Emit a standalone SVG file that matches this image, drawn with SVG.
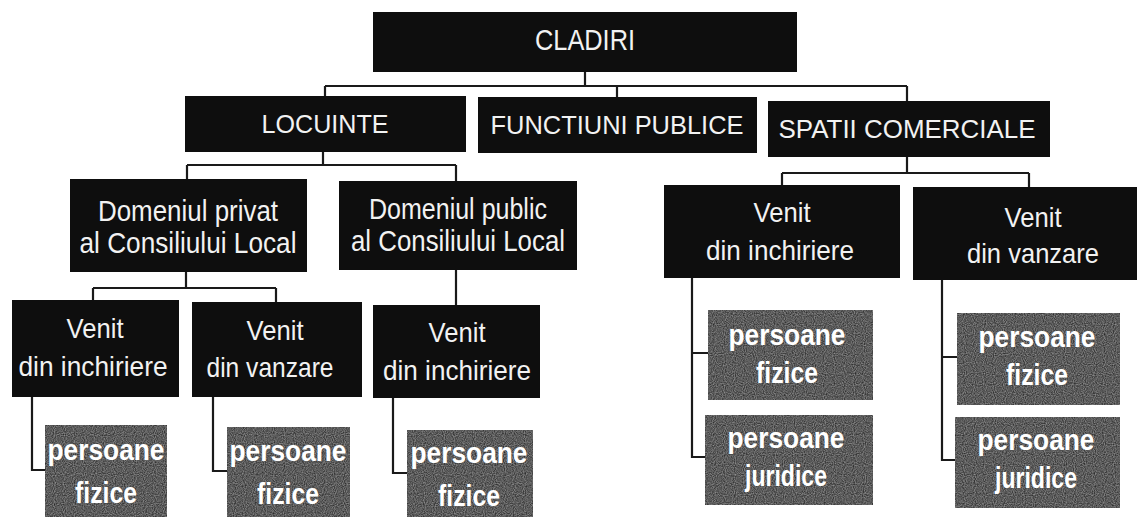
<svg xmlns="http://www.w3.org/2000/svg" width="1137" height="517" viewBox="0 0 1137 517">
<defs>
<filter id="speckle" x="0" y="0" width="100%" height="100%" color-interpolation-filters="sRGB">
<feTurbulence type="fractalNoise" baseFrequency="0.9" numOctaves="1" seed="3" result="n"/>
<feColorMatrix in="n" type="matrix" values="0.6 0 0 0 0.06  0.6 0 0 0 0.06  0.6 0 0 0 0.06  0 0 0 0 1" result="g"/>
<feComposite in="g" in2="SourceGraphic" operator="in"/>
</filter>
</defs>
<style>
.bk{fill:#0e0e0e}
.gr{fill:#5e5e5e;filter:url(#speckle)}
.t{font-family:"Liberation Sans Narrow","Liberation Sans",Arial,sans-serif;fill:#f2f2f2;text-anchor:middle;font-weight:normal}
.p{font-family:"Liberation Sans Narrow","Liberation Sans",Arial,sans-serif;fill:#ffffff;text-anchor:middle;font-weight:bold;font-size:30px}
.c{fill:none;stroke:#1a1a1a;stroke-width:2.2}
</style>
<rect width="1137" height="517" fill="#ffffff"/>
<g id="connectors">
<path class="c" d="M585 72V86M325 86H907M325 86V96M617 86V97M907 86V101"/>
<path class="c" d="M323 152V165M187 165H456M187 165V180M456 165V181"/>
<path class="c" d="M186 272V288M93 288H276M93 288V302M276 288V302"/>
<path class="c" d="M456 270V305"/>
<path class="c" d="M907 157V173M782 173H1029M782 173V185M1029 173V187"/>
<path class="c" d="M32 397V470H45M213 397V471H227M393 398V473H407"/>
<path class="c" d="M692 278V457H705M692 353H708M942 280V460H955M942 357H957"/>
</g>
<g id="cladiri"><rect class="bk" x="373" y="12" width="424" height="60"/><text class="t" x="585" y="50" font-size="29" textLength="100" lengthAdjust="spacingAndGlyphs">CLADIRI</text></g>
<g id="locuinte"><rect class="bk" x="185" y="96" width="281" height="56"/><text class="t" x="325" y="133" font-size="26" textLength="127" lengthAdjust="spacingAndGlyphs">LOCUINTE</text></g>
<g id="functiuni"><rect class="bk" x="478" y="97" width="279" height="56"/><text class="t" x="617" y="134" font-size="26" textLength="253" lengthAdjust="spacingAndGlyphs">FUNCTIUNI PUBLICE</text></g>
<g id="spatii"><rect class="bk" x="768" y="101" width="282" height="56"/><text class="t" x="907" y="138" font-size="26" textLength="257" lengthAdjust="spacingAndGlyphs">SPATII COMERCIALE</text></g>
<g id="dom-privat"><rect class="bk" x="70" y="179" width="237" height="93"/><text class="t" x="188" y="221" font-size="29" textLength="180" lengthAdjust="spacingAndGlyphs">Domeniul privat</text><text class="t" x="188" y="253" font-size="29" textLength="217" lengthAdjust="spacingAndGlyphs">al Consiliului Local</text></g>
<g id="dom-public"><rect class="bk" x="339" y="181" width="238" height="89"/><text class="t" x="458" y="219" font-size="29" textLength="178" lengthAdjust="spacingAndGlyphs">Domeniul public</text><text class="t" x="458" y="251" font-size="29" textLength="214" lengthAdjust="spacingAndGlyphs">al Consiliului Local</text></g>
<g id="venit-a"><rect class="bk" x="12" y="300" width="167" height="97"/><text class="t" x="95" y="338" font-size="28" textLength="57" lengthAdjust="spacingAndGlyphs">Venit</text><text class="t" x="93" y="376" font-size="28" textLength="149" lengthAdjust="spacingAndGlyphs">din inchiriere</text></g>
<g id="venit-b"><rect class="bk" x="192" y="302" width="170" height="95"/><text class="t" x="275" y="340" font-size="28" textLength="57" lengthAdjust="spacingAndGlyphs">Venit</text><text class="t" x="270" y="377" font-size="28" textLength="127" lengthAdjust="spacingAndGlyphs">din vanzare</text></g>
<g id="venit-c"><rect class="bk" x="373" y="305" width="167" height="93"/><text class="t" x="457" y="342" font-size="28" textLength="57" lengthAdjust="spacingAndGlyphs">Venit</text><text class="t" x="457" y="380" font-size="28" textLength="148" lengthAdjust="spacingAndGlyphs">din inchiriere</text></g>
<g id="venit-d"><rect class="bk" x="664" y="185" width="236" height="93"/><text class="t" x="782" y="222" font-size="28" textLength="57" lengthAdjust="spacingAndGlyphs">Venit</text><text class="t" x="780" y="260" font-size="28" textLength="148" lengthAdjust="spacingAndGlyphs">din inchiriere</text></g>
<g id="venit-e"><rect class="bk" x="913" y="187" width="224" height="93"/><text class="t" x="1033" y="227" font-size="28" textLength="57" lengthAdjust="spacingAndGlyphs">Venit</text><text class="t" x="1033" y="263" font-size="28" textLength="132" lengthAdjust="spacingAndGlyphs">din vanzare</text></g>
<g id="pf-a"><rect class="gr" x="45" y="425" width="122" height="92"/><text class="p" x="106" y="460" textLength="117" lengthAdjust="spacingAndGlyphs">persoane</text><text class="p" x="106" y="503" textLength="62" lengthAdjust="spacingAndGlyphs">fizice</text></g>
<g id="pf-b"><rect class="gr" x="227" y="427" width="123" height="90"/><text class="p" x="288" y="461" textLength="117" lengthAdjust="spacingAndGlyphs">persoane</text><text class="p" x="288" y="504" textLength="62" lengthAdjust="spacingAndGlyphs">fizice</text></g>
<g id="pf-c"><rect class="gr" x="407" y="430" width="126" height="87"/><text class="p" x="469" y="463" textLength="117" lengthAdjust="spacingAndGlyphs">persoane</text><text class="p" x="469" y="506" textLength="62" lengthAdjust="spacingAndGlyphs">fizice</text></g>
<g id="pf-d"><rect class="gr" x="708" y="310" width="165" height="90"/><text class="p" x="787" y="345" textLength="117" lengthAdjust="spacingAndGlyphs">persoane</text><text class="p" x="787" y="383" textLength="62" lengthAdjust="spacingAndGlyphs">fizice</text></g>
<g id="pj-d"><rect class="gr" x="705" y="415" width="168" height="90"/><text class="p" x="786" y="448" textLength="117" lengthAdjust="spacingAndGlyphs">persoane</text><text class="p" x="786" y="486" textLength="82" lengthAdjust="spacingAndGlyphs">juridice</text></g>
<g id="pf-e"><rect class="gr" x="957" y="313" width="163" height="92"/><text class="p" x="1037" y="347" textLength="117" lengthAdjust="spacingAndGlyphs">persoane</text><text class="p" x="1037" y="385" textLength="62" lengthAdjust="spacingAndGlyphs">fizice</text></g>
<g id="pj-e"><rect class="gr" x="955" y="417" width="165" height="91"/><text class="p" x="1036" y="450" textLength="117" lengthAdjust="spacingAndGlyphs">persoane</text><text class="p" x="1036" y="488" textLength="82" lengthAdjust="spacingAndGlyphs">juridice</text></g>
</svg>
